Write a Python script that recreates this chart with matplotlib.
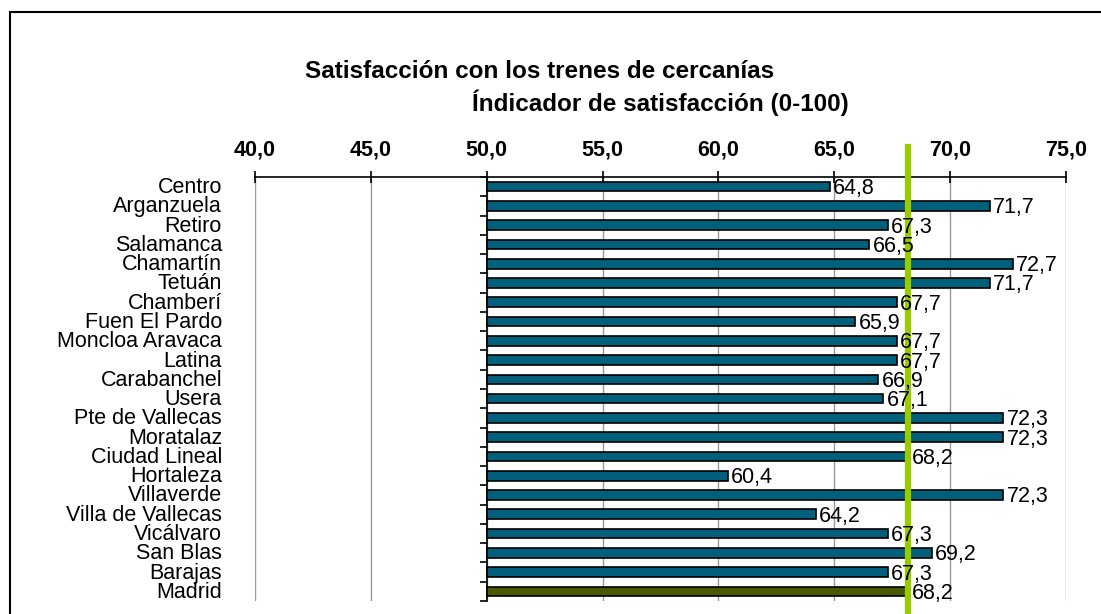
import numpy as np
import matplotlib.pyplot as plt
from matplotlib.patches import Rectangle
import matplotlib.transforms as mtransforms

plt.rcParams['font.family'] = ['Liberation Sans', 'DejaVu Sans']

#--------------------------- datos ---------------------------
distritos = ['Centro', 'Arganzuela', 'Retiro', 'Salamanca', 'Chamartín', 'Tetuán',
             'Chamberí', 'Fuen El Pardo', 'Moncloa Aravaca', 'Latina', 'Carabanchel',
             'Usera', 'Pte de Vallecas', 'Moratalaz', 'Ciudad Lineal', 'Hortaleza',
             'Villaverde', 'Villa de Vallecas', 'Vicálvaro', 'San Blas', 'Barajas', 'Madrid']
valores = [64.8, 71.7, 67.3, 66.5, 72.7, 71.7, 67.7, 65.9, 67.7, 67.7, 66.9,
           67.1, 72.3, 72.3, 68.2, 60.4, 72.3, 64.2, 67.3, 69.2, 67.3, 68.2]
media_madrid = 68.2
base = 50.0
xticks = [40, 45, 50, 55, 60, 65, 70, 75]

#--------------------------- figura ---------------------------
fig = plt.figure(figsize=(11.01, 6.14), dpi=100)
ax = fig.add_axes([255/1101, 1 - 601/614, (1066-255)/1101, (601-177)/614])

n = len(distritos)
y = np.arange(n)
colores = ['#005F7A'] * (n - 1) + ['#4A5A00']
ax.barh(y, np.array(valores) - base, left=base, height=0.5, color=colores,
        edgecolor='black', linewidth=1.2, zorder=3)

for yi, v in zip(y, valores):
    ax.text(v + 0.15, yi + 0.1, f'{v:.1f}'.replace('.', ','), va='center', ha='left',
            fontsize=15.5, zorder=5)

# linea de la media
ax.axvline(media_madrid, ymin=-0.05, ymax=1.07, color='#99CC00', linewidth=4.5,
           zorder=4, clip_on=False)

ax.set_xlim(40, 75)
ax.set_ylim(n - 0.5, -0.5)
ax.set_xticks(xticks)
ax.set_xticklabels([f'{t:.1f}'.replace('.', ',') for t in xticks], fontweight='bold', fontsize=15.5)
ax.xaxis.tick_top()
ax.tick_params(axis='x', direction='inout', length=8, width=1.2, pad=8)
ax.grid(axis='x', color='#999999', linewidth=1, zorder=0)

# eje vertical cruza en 50
for s in ['right', 'bottom']:
    ax.spines[s].set_visible(False)
ax.spines['left'].set_position(('data', base))
ax.spines['left'].set_linewidth(1.2)
ax.spines['top'].set_linewidth(1.2)
ax.set_yticks(np.arange(n + 1) - 0.5)
ax.set_yticklabels([])
ax.tick_params(axis='y', direction='out', length=5, width=1.2)

trans = mtransforms.blended_transform_factory(fig.transFigure, ax.transData)
for yi, nombre in zip(y, distritos):
    ax.text(222/1101, yi + 0.05, nombre, transform=trans, ha='right', va='center',
            fontsize=15.5)

fig.text(540/1101, 1 - 72/614, 'Satisfacción con los trenes de cercanías', ha='center',
         va='center', fontweight='bold', fontsize=17.5)
fig.text(660/1101, 1 - 103/614, 'Índicador de satisfacción (0-100)', ha='center',
         va='center', fontweight='bold', fontsize=17.5)

fig.patches.append(Rectangle((10/1101, -0.1), 1.2, 1.1 - 12/614, transform=fig.transFigure,
                             fill=False, edgecolor='black', linewidth=1.5))

fig.savefig('out.png', dpi=100)
